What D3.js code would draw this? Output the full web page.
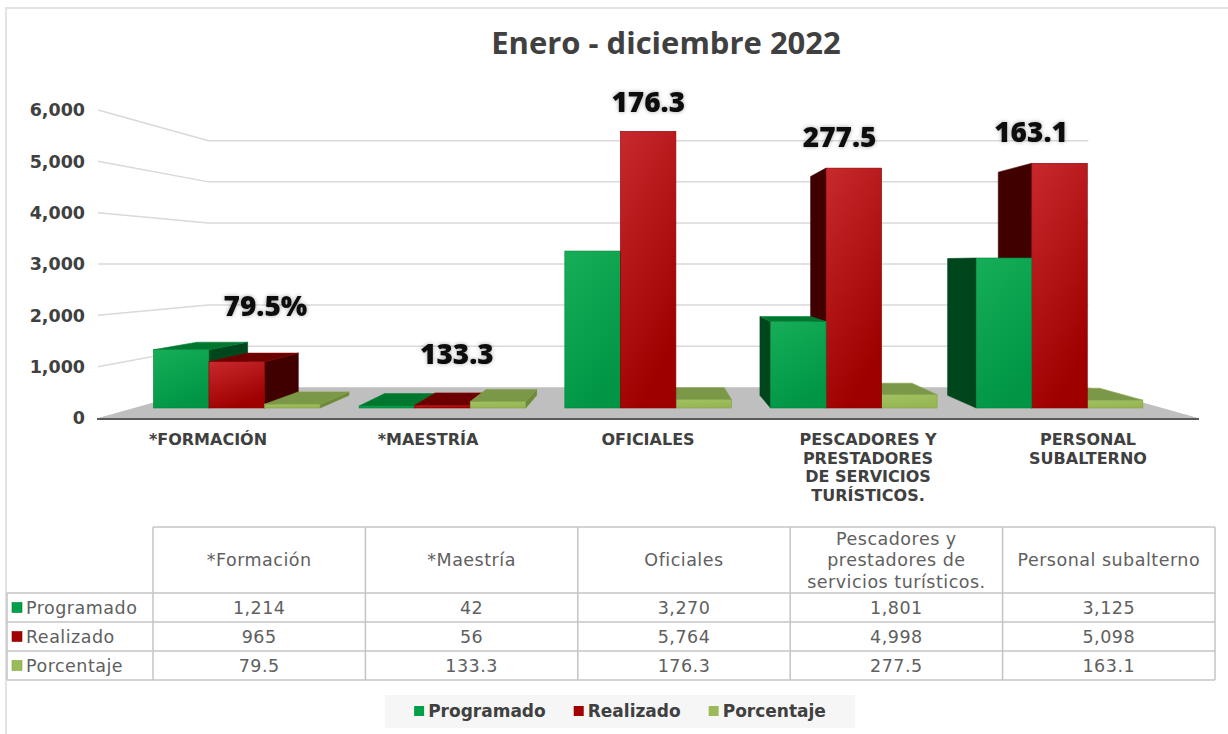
<!DOCTYPE html>
<html>
<head>
<meta charset="utf-8">
<title>Enero - diciembre 2022</title>
<script src="https://d3js.org/d3.v7.min.js"></script>
<style>
  body { margin: 0; background: #fff; }
  svg { display: block; }
  .title { font-family: "Open Sans", sans-serif; font-weight: 700; font-size: 31px; fill: #404040; }
  .ytick { font-family: "DejaVu Sans", sans-serif; font-weight: bold; font-size: 17.5px; fill: #404040; }
  .cat { font-family: "DejaVu Sans", sans-serif; font-weight: bold; font-size: 16px; fill: #404040; }
  .dlabel { font-family: "Open Sans", sans-serif; font-weight: 800; font-size: 28px; fill: #111; }
  .cell { font-family: "DejaVu Sans", sans-serif; font-weight: normal; font-size: 17.5px; fill: #606060; letter-spacing: 0.5px; }
  .legend { font-family: "DejaVu Sans", sans-serif; font-weight: bold; font-size: 17px; fill: #404040; }
</style>
</head>
<body>
<div id="chart"></div>
<script>
// data
const categoryLines = [["*FORMACIÓN"], ["*MAESTRÍA"], ["OFICIALES"],
  ["PESCADORES Y", "PRESTADORES", "DE SERVICIOS", "TURÍSTICOS."], ["PERSONAL", "SUBALTERNO"]];
const tableHeaders = [["*Formación"], ["*Maestría"], ["Oficiales"],
  ["Pescadores y", "prestadores de", "servicios turísticos."], ["Personal subalterno"]];
const seriesNames = ["Programado", "Realizado", "Porcentaje"];
const programado = [1214, 42, 3270, 1801, 3125];
const realizado = [965, 56, 5764, 4998, 5098];
const porcentaje = [79.5, 133.3, 176.3, 277.5, 163.1];
const yTicks = [0, 1000, 2000, 3000, 4000, 5000, 6000];

const W = 1228, H = 734;
const svg = d3.select("#chart").append("svg").attr("width", W).attr("height", H);
const defs = svg.append("defs");

// series styles
const styles = {
  Programado: { g: ["#17ae58", "#009646"], side: "#00461d", top: "#00772f", stroke: "#00833a", key: "#00a04b" },
  Realizado:  { g: ["#c8292d", "#9e0000"], side: "#400000", top: "#6c0000", stroke: "#870000", key: "#a30000" },
  Porcentaje: { g: ["#a2c062", "#96b653"], side: "#6d8a38", top: "#7b9848", stroke: "#83a346", key: "#9bbb59" }
};
seriesNames.forEach((s, i) => {
  const lg = defs.append("linearGradient").attr("id", "grad" + i)
    .attr("x1", 0).attr("y1", 0).attr("x2", 0.4).attr("y2", 1);
  lg.append("stop").attr("offset", "0%").attr("stop-color", styles[s].g[0]);
  lg.append("stop").attr("offset", "100%").attr("stop-color", styles[s].g[1]);
});
const shadow = defs.append("filter").attr("id", "glow")
  .attr("x", "-20%").attr("y", "-40%").attr("width", "140%").attr("height", "180%");
shadow.append("feDropShadow").attr("dx", 0).attr("dy", 0).attr("stdDeviation", 2)
  .attr("flood-color", "#000").attr("flood-opacity", 0.35);

// frame
svg.append("path").attr("d", `M6,${H} V8 H${W}`).attr("fill", "none")
  .attr("stroke", "#e3e3e3").attr("stroke-width", 2);

svg.append("text").attr("class", "title").attr("x", 666).attr("y", 54)
  .attr("text-anchor", "middle").text("Enero - diciembre 2022");

// perspective setup
const y = d3.scaleLinear().domain([0, 6000]).range([418, 110]);
const Vx = 650, Vy = y(3000);
const fFront = 0.935, fBack = 0.853, fWall = 0.8;
const proj = (xw, yw, f) => [Vx + (xw - Vx) * f, Vy + (yw - Vy) * f];
const x = d3.scaleBand().domain(d3.range(categoryLines.length)).range([98, 1198])
  .paddingInner(0.19).paddingOuter(0.095);
const xs = d3.scaleBand().domain(seriesNames).range([0, x.bandwidth()]);
const line = d3.line();
const poly = pts => line(pts) + "Z";

// walls: gridlines
const grid = svg.append("g");
yTicks.filter(v => v > 0).forEach(v => {
  grid.append("path")
    .attr("d", line([proj(98, y(v), 1), proj(98, y(v), fWall), proj(1198, y(v), fWall)]))
    .attr("fill", "none").attr("stroke", "#d9d9d9").attr("stroke-width", 1.5);
});

// floor
svg.append("path")
  .attr("d", poly([proj(98, y(0), 1), proj(1198, y(0), 1), proj(1198, y(0), fWall), proj(98, y(0), fWall)]))
  .attr("fill", "#bfbfbf");
svg.append("line").attr("x1", 97).attr("x2", 1199).attr("y1", y(0) + 1).attr("y2", y(0) + 1)
  .attr("stroke", "#595959").attr("stroke-width", 2);

// y axis labels
svg.append("g").selectAll("text").data(yTicks).join("text")
  .attr("class", "ytick").attr("x", 85).attr("y", d => y(d)).attr("dy", "0.36em")
  .attr("text-anchor", "end").text(d3.format(","));

// bars
const seriesValues = [programado, realizado, porcentaje];
const bars = [];
seriesNames.forEach((s, si) => {
  seriesValues[si].forEach((v, ci) => {
    const x0 = x(ci) + xs(s), x1 = x0 + xs.bandwidth();
    bars.push({ s, si, ci, v, x0, x1 });
  });
});
// farther from the vanishing point first
bars.sort((a, b) => Math.abs((b.x0 + b.x1) / 2 - Vx) - Math.abs((a.x0 + a.x1) / 2 - Vx));

const barG = svg.append("g");
bars.forEach(b => {
  const st = styles[b.s];
  const top = y(b.v), bot = y(0);
  const g = barG.append("g");
  let side = null;
  if (b.x1 < Vx) side = b.x1;
  else if (b.x0 > Vx) side = b.x0;
  if (side !== null) {
    g.append("path")
      .attr("d", poly([proj(side, top, fFront), proj(side, top, fBack), proj(side, bot, fBack), proj(side, bot, fFront)]))
      .attr("fill", st.side).attr("stroke", st.side).attr("stroke-width", 0.6);
  }
  if (top > Vy) {
    g.append("path")
      .attr("d", poly([proj(b.x0, top, fFront), proj(b.x1, top, fFront), proj(b.x1, top, fBack), proj(b.x0, top, fBack)]))
      .attr("fill", st.top).attr("stroke", st.stroke).attr("stroke-width", 0.6);
  }
  const p0 = proj(b.x0, top, fFront), p1 = proj(b.x1, bot, fFront);
  g.append("rect").attr("x", p0[0]).attr("y", p0[1])
    .attr("width", p1[0] - p0[0]).attr("height", Math.max(0.5, p1[1] - p0[1]))
    .attr("fill", `url(#grad${b.si})`).attr("stroke", st.stroke).attr("stroke-width", 0.6);
});

// data labels (porcentaje)
const fLabel = 0.87;
porcentaje.forEach((p, ci) => {
  const cx = x(ci) + x.bandwidth() / 2;
  const maxV = Math.max(programado[ci], realizado[ci], p);
  const pt = proj(cx, y(maxV) - 44, fLabel);
  svg.append("text").attr("class", "dlabel").attr("filter", "url(#glow)")
    .attr("x", pt[0]).attr("y", pt[1]).attr("dy", "0.36em").attr("text-anchor", "middle")
    .text(d3.format(".1f")(p) + (ci === 0 ? "%" : ""));
});

// category labels
categoryLines.forEach((lines, ci) => {
  const cx = x(ci) + x.bandwidth() / 2;
  const t = svg.append("text").attr("class", "cat").attr("text-anchor", "middle");
  lines.forEach((l, li) => {
    t.append("tspan").attr("x", cx).attr("y", y(0) + 27 + li * 18.5).text(l);
  });
});

// data table
const tx = d3.scaleBand().domain(d3.range(tableHeaders.length)).range([153, 1215]);
const headTop = 527, headBot = 593, rowH = 29;
const ty = d3.scaleBand().domain(seriesNames).range([headBot, headBot + rowH * 3]);
const tbl = svg.append("g");
const gridC = "#c4c4c4";
tbl.append("line").attr("x1", 153).attr("x2", 1215).attr("y1", headTop).attr("y2", headTop)
  .attr("stroke", gridC).attr("stroke-width", 1.5);
[headBot].concat(seriesNames.map(s => ty(s) + rowH)).forEach(yy => {
  tbl.append("line").attr("x1", 7).attr("x2", 1215).attr("y1", yy).attr("y2", yy)
    .attr("stroke", gridC).attr("stroke-width", 1.5);
});
tbl.append("line").attr("x1", 7).attr("x2", 7).attr("y1", headBot).attr("y2", headBot + rowH * 3)
  .attr("stroke", gridC).attr("stroke-width", 1.5);
d3.range(tableHeaders.length + 1).forEach(i => {
  const xx = 153 + i * tx.step();
  tbl.append("line").attr("x1", xx).attr("x2", xx).attr("y1", headTop).attr("y2", headBot + rowH * 3)
    .attr("stroke", gridC).attr("stroke-width", 1.5);
});
tableHeaders.forEach((lines, i) => {
  const cx = tx(i) + tx.bandwidth() / 2;
  const mid = (headTop + headBot) / 2;
  const lh = 21.5;
  const t = tbl.append("text").attr("class", "cell").attr("text-anchor", "middle");
  lines.forEach((l, li) => {
    t.append("tspan").attr("x", cx).attr("y", mid + (li - (lines.length - 1) / 2) * lh).attr("dy", "0.36em").text(l);
  });
});
const fmt = [d3.format(","), d3.format(","), d3.format(".1f")];
seriesNames.forEach((s, si) => {
  const cy = ty(s) + rowH / 2;
  tbl.append("rect").attr("x", 12).attr("y", cy - 5).attr("width", 10).attr("height", 10)
    .attr("fill", styles[s].key).attr("stroke", styles[s].stroke).attr("stroke-width", 0.6);
  tbl.append("text").attr("class", "cell").attr("x", 26).attr("y", cy).attr("dy", "0.36em").text(s);
  seriesValues[si].forEach((v, ci) => {
    tbl.append("text").attr("class", "cell").attr("text-anchor", "middle")
      .attr("x", tx(ci) + tx.bandwidth() / 2).attr("y", cy).attr("dy", "0.36em").text(fmt[si](v));
  });
});

// legend
const leg = svg.append("g");
const legBg = leg.append("rect").attr("fill", "#f6f6f6");
let lx = 0;
const items = seriesNames.map(s => {
  const g = leg.append("g");
  g.append("rect").attr("x", 0).attr("y", -5).attr("width", 10).attr("height", 10).attr("fill", styles[s].key);
  const t = g.append("text").attr("class", "legend").attr("x", 14).attr("dy", "0.36em").text(s);
  const w = 14 + t.node().getComputedTextLength();
  const item = { g, x: lx };
  lx += w + 28;
  return item;
});
const total = lx - 28;
const startX = 620 - total / 2, legY = 711;
items.forEach(it => it.g.attr("transform", `translate(${startX + it.x},${legY})`));
legBg.attr("x", 385).attr("y", 695).attr("width", 470).attr("height", 33);
</script>
</body>
</html>
